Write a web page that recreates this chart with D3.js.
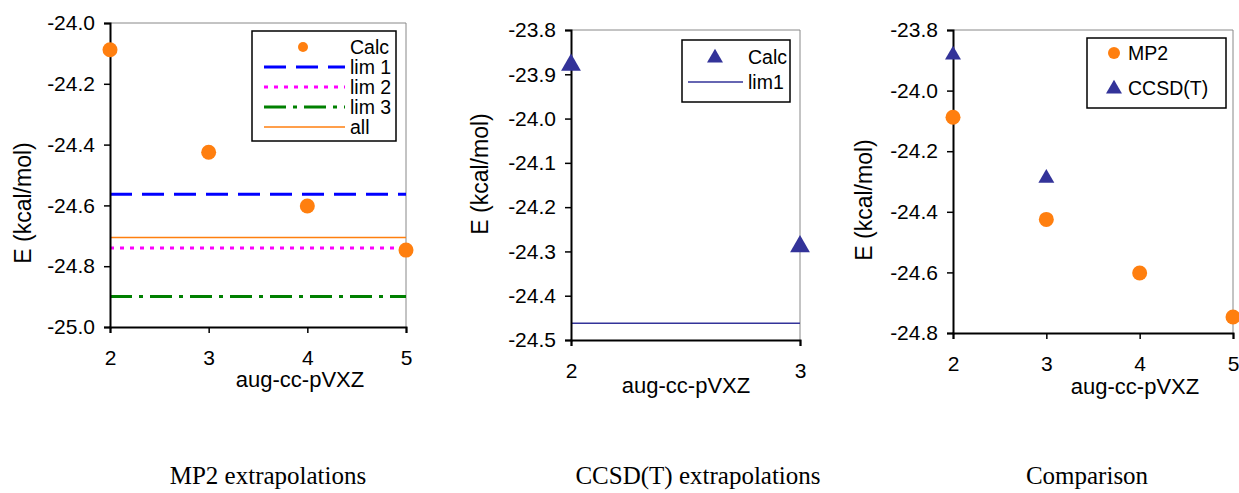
<!DOCTYPE html>
<html>
<head>
<meta charset="utf-8">
<script src="https://cdn.jsdelivr.net/npm/d3@7"></script>
<style>
  body { margin: 0; background: #fff; }
  svg text { font-family: Arial, "Liberation Sans", sans-serif; fill: #000; }
  .caption { font-family: "Times New Roman", "Liberation Serif", serif; }
</style>
</head>
<body>
<svg id="chart" width="1239" height="493"></svg>
<script>
// basis set cardinal numbers
const basisMP2 = [2, 3, 4, 5];
const basisCCSD = [2, 3];

// interaction energies, kcal/mol
const mp2Calc = [-24.088, -24.425, -24.602, -24.747];
const ccsdCalc = [-23.879, -24.289];
const ccsdCompare = [-23.882, -24.289];

// extrapolated limits
const mp2Limits = [
  { name: "lim 1", value: -24.563 },
  { name: "lim 2", value: -24.740 },
  { name: "lim 3", value: -24.900 },
  { name: "all", value: -24.706 },
];
const ccsdLimits = [{ name: "lim1", value: -24.462 }];

// tick labels
const ticksMP2 = [-24.0, -24.2, -24.4, -24.6, -24.8, -25.0];
const ticksCCSD = [-23.8, -23.9, -24.0, -24.1, -24.2, -24.3, -24.4, -24.5];
const ticksCmp = [-23.8, -24.0, -24.2, -24.4, -24.6, -24.8];

const captions = ["MP2 extrapolations", "CCSD(T) extrapolations", "Comparison"];

const orange = "#ff7f0f";
const navy = "#333399";
const lineStyle = {
  "lim 1": { color: "#0000ff", width: 3, dash: "22,10" },
  "lim 2": { color: "#ff00ff", width: 3, dash: "4,6" },
  "lim 3": { color: "#008000", width: 3, dash: "22,7,4,7" },
  all: { color: orange, width: 1.5, dash: null },
  lim1: { color: navy, width: 1.5, dash: null },
};

const svg = d3.select("#chart");
const tri = d3.symbol().type(d3.symbolTriangle);

function panel(opt) {
  const g = svg.append("g");
  const x = d3.scaleLinear().domain(opt.xDomain).range([opt.left, opt.right]);
  const y = d3.scaleLinear().domain(opt.yDomain).range([opt.bottom, opt.top]);

  // top / right frame
  g.append("path")
    .attr("d", `M${opt.left},${opt.top}H${opt.right}V${opt.bottom}`)
    .attr("fill", "none")
    .attr("stroke", "#888")
    .attr("stroke-width", 1);

  // horizontal limit lines
  (opt.limits || []).forEach((l) => {
    const s = lineStyle[l.name];
    g.append("line")
      .attr("x1", x(opt.xDomain[0])).attr("x2", x(opt.xDomain[1]))
      .attr("y1", y(l.value)).attr("y2", y(l.value))
      .attr("stroke", s.color)
      .attr("stroke-width", s.width)
      .attr("stroke-dasharray", s.dash);
  });

  const yAxis = g.append("g")
    .attr("transform", `translate(${opt.left},0)`)
    .call(d3.axisLeft(y).tickValues(opt.yTicks).tickFormat(d3.format(".1f")).tickSize(6).tickPadding(9));
  const xAxis = g.append("g")
    .attr("transform", `translate(0,${opt.bottom})`)
    .call(d3.axisBottom(x).tickValues(opt.xTicks).tickFormat(d3.format("d")).tickSize(6).tickPadding(17));
  [yAxis, xAxis].forEach((a) => {
    a.select(".domain").attr("stroke", "#000").attr("stroke-width", 2);
    a.selectAll(".tick line").attr("stroke", "#000").attr("stroke-width", 1.5);
    a.selectAll("text").attr("font-size", 21).attr("font-family", null).attr("fill", "#000");
  });
  // axis format uses U+2212 minus; keep the hyphen like the original
  yAxis.selectAll("text").text((d) => d3.format(".1f")(d).replace("\u2212", "-"));

  g.append("text")
    .attr("x", opt.xTitle[0]).attr("y", opt.xTitle[1])
    .attr("text-anchor", "middle").attr("font-size", 22)
    .text("aug-cc-pVXZ");
  g.append("text")
    .attr("transform", `translate(${opt.yTitle[0]},${opt.yTitle[1]}) rotate(-90)`)
    .attr("text-anchor", "middle").attr("dy", "0.35em").attr("font-size", 23)
    .text("E (kcal/mol)");

  return { g, x, y };
}

function dots(p, xs, ys, r) {
  p.g.selectAll(null).data(ys).enter().append("circle")
    .attr("cx", (d, i) => p.x(xs[i])).attr("cy", (d) => p.y(d))
    .attr("r", r).attr("fill", orange);
}
function triangles(p, xs, ys, size) {
  p.g.selectAll(null).data(ys).enter().append("path")
    .attr("d", tri.size(size))
    .attr("transform", (d, i) => `translate(${p.x(xs[i])},${p.y(d)})`)
    .attr("fill", navy);
}

function legend(g, box, items) {
  g.append("rect")
    .attr("x", box.x).attr("y", box.y).attr("width", box.w).attr("height", box.h)
    .attr("fill", "#fff").attr("stroke", "#000").attr("stroke-width", 1.5);
  items.forEach((it, i) => {
    const cy = box.y + box.first + i * box.step;
    if (it.kind === "dot") {
      g.append("circle").attr("cx", box.mark).attr("cy", cy).attr("r", it.r).attr("fill", orange);
    } else if (it.kind === "tri") {
      g.append("path").attr("d", tri.size(it.size))
        .attr("transform", `translate(${box.mark},${cy + 1})`).attr("fill", navy);
    } else {
      const s = lineStyle[it.name];
      g.append("line")
        .attr("x1", box.lx1).attr("x2", box.lx2).attr("y1", cy).attr("y2", cy)
        .attr("stroke", s.color).attr("stroke-width", s.width)
        .attr("stroke-dasharray", s.dash);
    }
    g.append("text").attr("x", box.tx).attr("y", cy).attr("dy", "0.35em")
      .attr("font-size", 19.5).text(it.label);
  });
}

// panel 1: MP2
const p1 = panel({
  left: 110, right: 406, top: 23, bottom: 327,
  xDomain: [2, 5], yDomain: [-25.0, -24.0],
  xTicks: basisMP2, yTicks: ticksMP2,
  limits: [mp2Limits[0], mp2Limits[3], mp2Limits[1], mp2Limits[2]],
  xTitle: [300, 387], yTitle: [23, 203],
});
dots(p1, basisMP2, mp2Calc, 7.5);
legend(p1.g, { x: 252, y: 31, w: 144, h: 110, first: 16, step: 20, mark: 303, lx1: 264, lx2: 345, tx: 350 }, [
  { kind: "dot", r: 5, label: "Calc" },
  { kind: "line", name: "lim 1", label: "lim 1" },
  { kind: "line", name: "lim 2", label: "lim 2" },
  { kind: "line", name: "lim 3", label: "lim 3" },
  { kind: "line", name: "all", label: "all" },
]);

// panel 2: CCSD(T)
const p2 = panel({
  left: 571, right: 800, top: 30, bottom: 340,
  xDomain: [2, 3], yDomain: [-24.5, -23.8],
  xTicks: basisCCSD, yTicks: ticksCCSD,
  limits: ccsdLimits,
  xTitle: [686, 393], yTitle: [480, 174],
});
triangles(p2, basisCCSD, ccsdCalc, 170);
legend(p2.g, { x: 682, y: 40, w: 108, h: 62, first: 17, step: 25, mark: 715, lx1: 688, lx2: 743, tx: 748 }, [
  { kind: "tri", size: 110, label: "Calc" },
  { kind: "line", name: "lim1", label: "lim1" },
]);

// panel 3: comparison
const p3 = panel({
  left: 953, right: 1233, top: 30, bottom: 333,
  xDomain: [2, 5], yDomain: [-24.8, -23.8],
  xTicks: basisMP2, yTicks: ticksCmp,
  xTitle: [1135, 394], yTitle: [864, 200],
});
dots(p3, basisMP2, mp2Calc, 7.5);
triangles(p3, basisCCSD, ccsdCompare, 110);
legend(p3.g, { x: 1087, y: 38, w: 139, h: 70, first: 15, step: 35, mark: 1114, tx: 1128 }, [
  { kind: "dot", r: 6, label: "MP2" },
  { kind: "tri", size: 110, label: "CCSD(T)" },
]);

// captions under each panel
const capX = [268, 698, 1087];
svg.selectAll("text.caption").data(captions).enter().append("text")
  .attr("class", "caption")
  .attr("x", (d, i) => capX[i]).attr("y", 484)
  .attr("text-anchor", "middle").attr("font-size", 25)
  .text((d) => d);
</script>
</body>
</html>
